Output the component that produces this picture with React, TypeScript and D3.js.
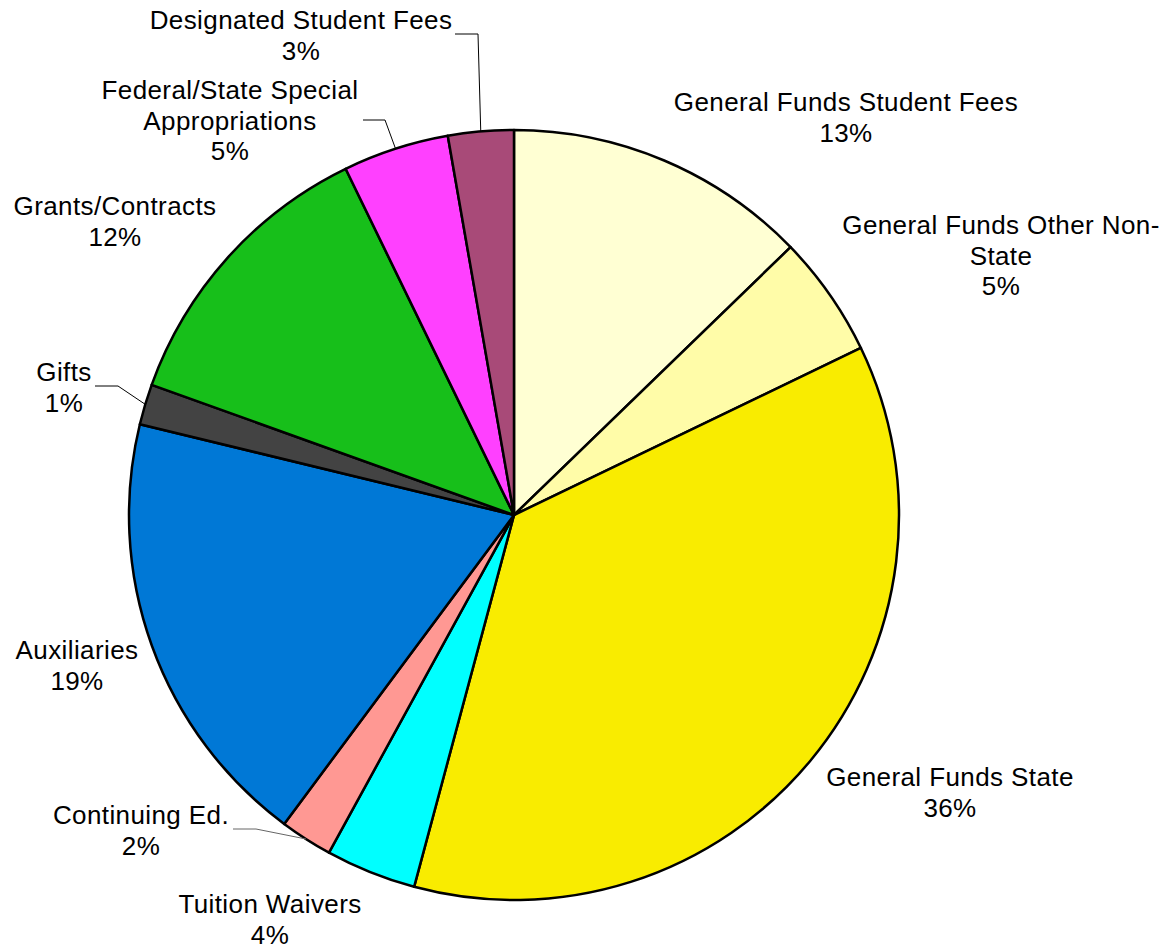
import React, { useEffect, useRef } from "react";
import * as d3 from "d3";

const categories = [
  "General Funds Student Fees",
  "General Funds Other Non-State",
  "General Funds State",
  "Tuition Waivers",
  "Continuing Ed.",
  "Auxiliaries",
  "Gifts",
  "Grants/Contracts",
  "Federal/State Special Appropriations",
  "Designated Student Fees",
];
const values = [12.75, 5.1, 36.3, 3.8, 2.2, 18.6, 1.7, 12.3, 4.45, 2.75];
const percentLabels = ["13%", "5%", "36%", "4%", "2%", "19%", "1%", "12%", "5%", "3%"];
const labelLines = [
  ["General Funds Student Fees"],
  ["General Funds Other Non-", "State"],
  ["General Funds State"],
  ["Tuition Waivers"],
  ["Continuing Ed."],
  ["Auxiliaries"],
  ["Gifts"],
  ["Grants/Contracts"],
  ["Federal/State Special", "Appropriations"],
  ["Designated Student Fees"],
];
const colors = [
  "#FFFFD3",
  "#FFFCA8",
  "#F9EC00",
  "#00FFFF",
  "#FF9893",
  "#0078D6",
  "#434343",
  "#17BF1A",
  "#FF40FF",
  "#A84A78",
];

// label layout: centre x and first-line centre y, plus optional leader elbow
const labelLayout: { x: number; y: number; leader?: [number, number][] }[] = [
  { x: 846, y: 102 },
  { x: 1001, y: 225 },
  { x: 950, y: 777 },
  { x: 270, y: 904 },
  { x: 141, y: 815, leader: [[233, 829], [256, 829]] },
  { x: 77, y: 650 },
  { x: 64, y: 372, leader: [[95, 386], [118, 386]] },
  { x: 115, y: 206 },
  { x: 230, y: 90, leader: [[363, 120], [385, 120]] },
  { x: 301, y: 20, leader: [[455, 34], [478, 34]] },
];

const W = 1166;
const H = 947;
const cx = 514;
const cy = 515;
const R = 385;
const lineH = 30.5;

const App = () => {
  const ref = useRef<SVGSVGElement>(null);

  useEffect(() => {
    const svg = d3.select(ref.current);
    svg.selectAll("*").remove();

    const data = values.map((v, i) => ({ v, i }));
    const pie = d3
      .pie<{ v: number; i: number }>()
      .value((d) => d.v)
      .sort(null);
    const arcs = pie(data);
    const arc = d3
      .arc<d3.PieArcDatum<{ v: number; i: number }>>()
      .innerRadius(0)
      .outerRadius(R);

    const g = svg.append("g").attr("transform", `translate(${cx},${cy})`);
    g.selectAll("path.slice")
      .data(arcs)
      .enter()
      .append("path")
      .attr("class", "slice")
      .attr("d", arc)
      .attr("fill", (d) => colors[d.data.i])
      .attr("stroke", "#000")
      .attr("stroke-width", 2.5)
      .attr("stroke-linejoin", "round");

    // leader lines
    arcs.forEach((a) => {
      const lay = labelLayout[a.data.i];
      if (!lay.leader) return;
      const mid = (a.startAngle + a.endAngle) / 2;
      const px = cx + Math.sin(mid) * R;
      const py = cy - Math.cos(mid) * R;
      const pts: [number, number][] = [...lay.leader, [px, py]];
      svg
        .append("path")
        .attr("d", d3.line()(pts))
        .attr("fill", "none")
        .attr("stroke", a.data.i === 4 ? "#666" : "#000")
        .attr("stroke-width", 1);
    });

    // labels
    categories.forEach((c, i) => {
      const lay = labelLayout[i];
      const lines = [...labelLines[i], percentLabels[i]];
      const t = svg
        .append("text")
        .attr("text-anchor", "middle")
        .attr("font-family", "'Liberation Sans', Arial, sans-serif")
        .attr("font-size", 26)
        .attr("letter-spacing", 0.4)
        .attr("fill", "#000");
      lines.forEach((l, k) => {
        t.append("tspan")
          .attr("x", lay.x)
          .attr("y", lay.y + k * lineH)
          .attr("dy", "0.35em")
          .text(l);
      });
    });
  }, []);

  return <svg ref={ref} width={W} height={H} style={{ display: "block", position: "absolute", left: 0, top: 0 }} />;
};

export default App;
